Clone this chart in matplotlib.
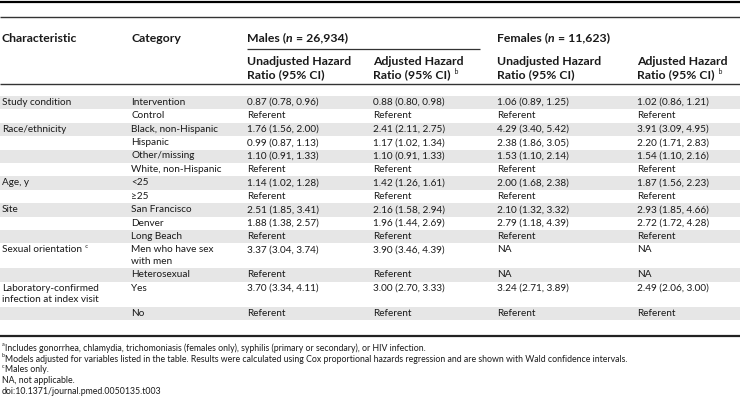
import matplotlib
matplotlib.use('Agg')
import matplotlib.pyplot as plt
from matplotlib.patches import Rectangle

plt.rcParams['font.family'] = ['Lato', 'DejaVu Sans']

# table content
characteristics = ["Study condition", "", "Race/ethnicity", "", "", "", "Age, y", "",
                   "Site", "", "", "Sexual orientation", "",
                   "Laboratory-confirmed\ninfection at index visit", ""]
char_notes = ["", "", "", "", "", "", "", "", "", "", "", "c", "", "", ""]
categories = ["Intervention", "Control", "Black, non-Hispanic", "Hispanic", "Other/missing",
              "White, non-Hispanic", "<25", "\u226525", "San Francisco", "Denver", "Long Beach",
              "Men who have sex\nwith men", "Heterosexual", "Yes", "No"]
males_unadj = ["0.87 (0.78, 0.96)", "Referent", "1.76 (1.56, 2.00)", "0.99 (0.87, 1.13)",
               "1.10 (0.91, 1.33)", "Referent", "1.14 (1.02, 1.28)", "Referent",
               "2.51 (1.85, 3.41)", "1.88 (1.38, 2.57)", "Referent", "3.37 (3.04, 3.74)",
               "Referent", "3.70 (3.34, 4.11)", "Referent"]
males_adj = ["0.88 (0.80, 0.98)", "Referent", "2.41 (2.11, 2.75)", "1.17 (1.02, 1.34)",
             "1.10 (0.91, 1.33)", "Referent", "1.42 (1.26, 1.61)", "Referent",
             "2.16 (1.58, 2.94)", "1.96 (1.44, 2.69)", "Referent", "3.90 (3.46, 4.39)",
             "Referent", "3.00 (2.70, 3.33)", "Referent"]
females_unadj = ["1.06 (0.89, 1.25)", "Referent", "4.29 (3.40, 5.42)", "2.38 (1.86, 3.05)",
                 "1.53 (1.10, 2.14)", "Referent", "2.00 (1.68, 2.38)", "Referent",
                 "2.10 (1.32, 3.32)", "2.79 (1.18, 4.39)", "Referent", "NA",
                 "NA", "3.24 (2.71, 3.89)", "Referent"]
females_adj = ["1.02 (0.86, 1.21)", "Referent", "3.91 (3.09, 4.95)", "2.20 (1.71, 2.83)",
               "1.54 (1.10, 2.16)", "Referent", "1.87 (1.56, 2.23)", "Referent",
               "2.93 (1.85, 4.66)", "2.72 (1.72, 4.28)", "Referent", "NA",
               "NA", "2.49 (2.06, 3.00)", "Referent"]

group_titles = [("Males (", "n", " = 26,934)"), ("Females (", "n", " = 11,623)")]
sub_headers = ["Unadjusted Hazard\nRatio (95% CI)", "Adjusted Hazard\nRatio (95% CI)"]
sub_notes = ["", "b"]

footnotes = [("a", "Includes gonorrhea, chlamydia, trichomoniasis (females only), syphilis (primary or secondary), or HIV infection."),
             ("b", "Models adjusted for variables listed in the table. Results were calculated using Cox proportional hazards regression and are shown with Wald confidence intervals."),
             ("c", "Males only."),
             ("", "NA, not applicable."),
             ("", "doi:10.1371/journal.pmed.0050135.t003")]

W, H = 740, 408
fig = plt.figure(figsize=(W / 100, H / 100), dpi=100)
ax = fig.add_axes([0, 0, 1, 1])
ax.set_xlim(0, W)
ax.set_ylim(H, 0)
ax.axis('off')
renderer = fig.canvas.get_renderer()

FS = 7.2
HFS = 8.8
TXT = '#1a1a1a'
col_x = [2, 131, 247, 373, 497, 637]
line_h = 11.6
pad = 1.9


def put_parts(x, y, parts, size=FS, weight='normal'):
    # draw pieces one after another, measuring each
    for s, kind in parts:
        kw = dict(fontsize=size, fontweight=weight, color=TXT, va='top', ha='left')
        yy = y
        if kind == 'it':
            kw['fontstyle'] = 'italic'
        if kind == 'sup':
            kw['fontsize'] = min(size * 0.62, 5)
            kw['fontweight'] = 'normal'
            yy = y - 1.5
        t = ax.text(x, yy, s, **kw)
        x += t.get_window_extent(renderer).width


# rules
ax.hlines(1.5, 0, W, color='black', lw=1.6)
ax.hlines(17, 0, W, color='#333333', lw=1.0)
ax.hlines(48.5, col_x[2], 480, color='#333333', lw=0.9)
ax.hlines(83.5, 0, W, color='#333333', lw=1.0)

# header
put_parts(col_x[0], 32.5, [("Characteristic", '')], size=HFS, weight='bold')
put_parts(col_x[1], 32.5, [("Category", '')], size=HFS, weight='bold')
for gx, (a, n, b) in zip([col_x[2], col_x[4]], group_titles):
    put_parts(gx, 32.5, [(a, ''), (n, 'it'), (b, '')], size=HFS, weight='bold')
for gi in range(2):
    for si, (sh, note) in enumerate(zip(sub_headers, sub_notes)):
        x = col_x[2 + gi * 2 + si]
        l1, l2 = sh.split('\n')
        put_parts(x, 56, [(l1, '')], size=HFS, weight='bold')
        put_parts(x, 56 + 13, [(l2, ''), ("  " + note, 'sup')] if note else [(l2, '')],
                  size=HFS, weight='bold')

# body rows
row_top = 96.0
for i in range(len(categories)):
    nl = max(categories[i].count('\n'), characteristics[i].count('\n')) + 1
    rh = 13.4 + (nl - 1) * line_h
    if i % 2 == 0:
        ax.add_patch(Rectangle((0, row_top), W, rh, facecolor='#e6e6e6', edgecolor='none', zorder=0))
    ty = row_top + pad
    cells = [characteristics[i], categories[i], males_unadj[i], males_adj[i],
             females_unadj[i], females_adj[i]]
    for c, (x, cell) in enumerate(zip(col_x, cells)):
        for k, ln in enumerate(cell.split('\n')):
            if not ln:
                continue
            parts = [(ln, '')]
            if c == 0 and k == 0 and char_notes[i]:
                parts.append(("  " + char_notes[i], 'sup'))
            put_parts(x, ty + k * line_h, parts)
    row_top += rh

ax.hlines(row_top + 15.5, 0, W, color='#222222', lw=1.6)

# footnotes
fy = row_top + 23.5
for mark, note in footnotes:
    if mark:
        put_parts(col_x[0], fy, [(mark, 'sup'), (note, '')], size=6.3)
    else:
        put_parts(col_x[0], fy, [(note, '')], size=6.3)
    fy += 10.8

fig.savefig('out.png', dpi=100)
